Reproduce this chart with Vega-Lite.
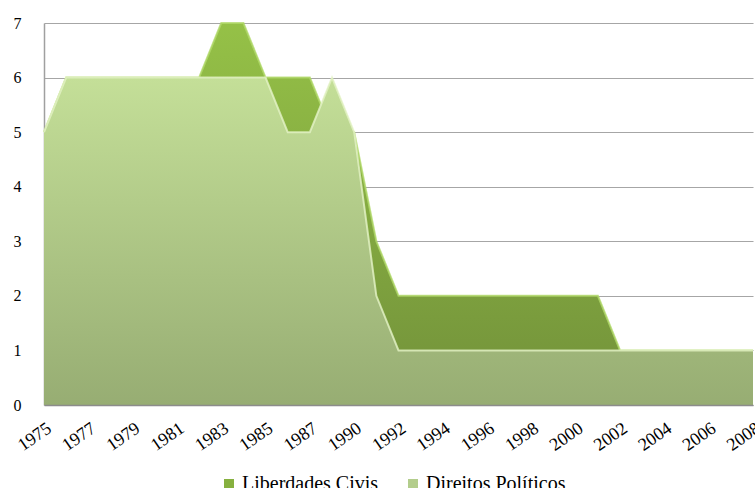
{
  "$schema": "https://vega.github.io/schema/vega-lite/v6.json",
  "width": 709,
  "height": 382,
  "autosize": {"type": "none"},
  "padding": {"left": 44, "top": 23, "right": 2, "bottom": 83},
  "background": "white",
  "config": {
    "view": {"stroke": null},
    "font": "Liberation Serif",
    "axis": {"labelFont": "Liberation Serif"},
    "legend": {"labelFont": "Liberation Serif"}
  },
  "data": {
    "values": [
      {"ano": "1975", "serie": "Liberdades Civis", "valor": 5},
      {"ano": "1976", "serie": "Liberdades Civis", "valor": 6},
      {"ano": "1977", "serie": "Liberdades Civis", "valor": 6},
      {"ano": "1978", "serie": "Liberdades Civis", "valor": 6},
      {"ano": "1979", "serie": "Liberdades Civis", "valor": 6},
      {"ano": "1980", "serie": "Liberdades Civis", "valor": 6},
      {"ano": "1981", "serie": "Liberdades Civis", "valor": 6},
      {"ano": "1982", "serie": "Liberdades Civis", "valor": 6},
      {"ano": "1983", "serie": "Liberdades Civis", "valor": 7},
      {"ano": "1984", "serie": "Liberdades Civis", "valor": 7},
      {"ano": "1985", "serie": "Liberdades Civis", "valor": 6},
      {"ano": "1986", "serie": "Liberdades Civis", "valor": 6},
      {"ano": "1987", "serie": "Liberdades Civis", "valor": 6},
      {"ano": "1989", "serie": "Liberdades Civis", "valor": 5},
      {"ano": "1990", "serie": "Liberdades Civis", "valor": 5},
      {"ano": "1991", "serie": "Liberdades Civis", "valor": 3},
      {"ano": "1992", "serie": "Liberdades Civis", "valor": 2},
      {"ano": "1993", "serie": "Liberdades Civis", "valor": 2},
      {"ano": "1994", "serie": "Liberdades Civis", "valor": 2},
      {"ano": "1995", "serie": "Liberdades Civis", "valor": 2},
      {"ano": "1996", "serie": "Liberdades Civis", "valor": 2},
      {"ano": "1997", "serie": "Liberdades Civis", "valor": 2},
      {"ano": "1998", "serie": "Liberdades Civis", "valor": 2},
      {"ano": "1999", "serie": "Liberdades Civis", "valor": 2},
      {"ano": "2000", "serie": "Liberdades Civis", "valor": 2},
      {"ano": "2001", "serie": "Liberdades Civis", "valor": 2},
      {"ano": "2002", "serie": "Liberdades Civis", "valor": 1},
      {"ano": "2003", "serie": "Liberdades Civis", "valor": 1},
      {"ano": "2004", "serie": "Liberdades Civis", "valor": 1},
      {"ano": "2005", "serie": "Liberdades Civis", "valor": 1},
      {"ano": "2006", "serie": "Liberdades Civis", "valor": 1},
      {"ano": "2007", "serie": "Liberdades Civis", "valor": 1},
      {"ano": "2008", "serie": "Liberdades Civis", "valor": 1},
      {"ano": "1975", "serie": "Direitos Políticos", "valor": 5},
      {"ano": "1976", "serie": "Direitos Políticos", "valor": 6},
      {"ano": "1977", "serie": "Direitos Políticos", "valor": 6},
      {"ano": "1978", "serie": "Direitos Políticos", "valor": 6},
      {"ano": "1979", "serie": "Direitos Políticos", "valor": 6},
      {"ano": "1980", "serie": "Direitos Políticos", "valor": 6},
      {"ano": "1981", "serie": "Direitos Políticos", "valor": 6},
      {"ano": "1982", "serie": "Direitos Políticos", "valor": 6},
      {"ano": "1983", "serie": "Direitos Políticos", "valor": 6},
      {"ano": "1984", "serie": "Direitos Políticos", "valor": 6},
      {"ano": "1985", "serie": "Direitos Políticos", "valor": 6},
      {"ano": "1986", "serie": "Direitos Políticos", "valor": 5},
      {"ano": "1987", "serie": "Direitos Políticos", "valor": 5},
      {"ano": "1989", "serie": "Direitos Políticos", "valor": 6},
      {"ano": "1990", "serie": "Direitos Políticos", "valor": 5},
      {"ano": "1991", "serie": "Direitos Políticos", "valor": 2},
      {"ano": "1992", "serie": "Direitos Políticos", "valor": 1},
      {"ano": "1993", "serie": "Direitos Políticos", "valor": 1},
      {"ano": "1994", "serie": "Direitos Políticos", "valor": 1},
      {"ano": "1995", "serie": "Direitos Políticos", "valor": 1},
      {"ano": "1996", "serie": "Direitos Políticos", "valor": 1},
      {"ano": "1997", "serie": "Direitos Políticos", "valor": 1},
      {"ano": "1998", "serie": "Direitos Políticos", "valor": 1},
      {"ano": "1999", "serie": "Direitos Políticos", "valor": 1},
      {"ano": "2000", "serie": "Direitos Políticos", "valor": 1},
      {"ano": "2001", "serie": "Direitos Políticos", "valor": 1},
      {"ano": "2002", "serie": "Direitos Políticos", "valor": 1},
      {"ano": "2003", "serie": "Direitos Políticos", "valor": 1},
      {"ano": "2004", "serie": "Direitos Políticos", "valor": 1},
      {"ano": "2005", "serie": "Direitos Políticos", "valor": 1},
      {"ano": "2006", "serie": "Direitos Políticos", "valor": 1},
      {"ano": "2007", "serie": "Direitos Políticos", "valor": 1},
      {"ano": "2008", "serie": "Direitos Políticos", "valor": 1}
    ]
  },
  "encoding": {
    "x": {
      "field": "ano",
      "type": "ordinal",
      "scale": {"type": "point", "padding": 0},
      "axis": {
        "title": null,
        "values": ["1975","1977","1979","1981","1983","1985","1987","1990","1992","1994","1996","1998","2000","2002","2004","2006","2008"],
        "labelAngle": -35,
        "labelAlign": "right",
        "labelBaseline": "top",
        "labelPadding": 14,
        "labelFont": "Liberation Serif",
        "labelFontSize": 18,
        "labelColor": "#000000",
        "ticks": false,
        "domain": true,
        "domainColor": "#8c8c8c",
        "domainWidth": 1.5,
        "grid": false,
        "zindex": 1,
        "labelOverlap": false
      }
    },
    "y": {
      "field": "valor",
      "type": "quantitative",
      "stack": null,
      "scale": {"domain": [0, 7], "nice": false},
      "axis": {
        "title": null,
        "values": [0, 1, 2, 3, 4, 5, 6, 7],
        "labelFont": "Liberation Serif",
        "labelFontSize": 16,
        "labelColor": "#000000",
        "labelPadding": 23,
        "ticks": false,
        "domain": true,
        "domainColor": "#a0a0a0",
        "domainWidth": 1.5,
        "grid": true,
        "gridColor": "#a6a6a6",
        "gridWidth": 1.2
      }
    }
  },
  "layer": [
    {
      "transform": [{"filter": "datum.serie === 'Liberdades Civis'"}],
      "mark": {"type": "area", "interpolate": "linear"},
      "encoding": {
        "color": {
          "field": "serie",
          "type": "nominal",
          "scale": {"domain": ["Liberdades Civis", "Direitos Políticos"], "range": ["#86b03f", "#b3cd8c"]},
          "legend": {
            "title": null,
            "orient": "none",
            "direction": "horizontal",
            "legendX": 175,
            "legendY": 451,
            "symbolType": "square",
            "symbolSize": 100,
            "symbolStrokeWidth": 0,
            "labelFont": "Liberation Serif",
            "labelFontSize": 20,
            "labelColor": "#000000",
            "labelOffset": 3,
            "columnPadding": 24
          }
        }
      }
    },
    {
      "transform": [{"filter": "datum.serie === 'Liberdades Civis'"}],
      "mark": {
        "type": "area",
        "interpolate": "linear",
        "color": {
          "gradient": "linear", "x1": 0, "y1": 0, "x2": 0, "y2": 1,
          "stops": [{"offset": 0, "color": "#95c147"}, {"offset": 1, "color": "#72913a"}]
        }
      }
    },
    {
      "transform": [{"filter": "datum.serie === 'Liberdades Civis'"}],
      "mark": {"type": "line", "interpolate": "linear", "color": "#b2d96a", "strokeWidth": 2, "opacity": 0.8}
    },
    {
      "transform": [{"filter": "datum.serie === 'Direitos Políticos'"}],
      "mark": {"type": "area", "interpolate": "linear"},
      "encoding": {
        "color": {"field": "serie", "type": "nominal"}
      }
    },
    {
      "transform": [{"filter": "datum.serie === 'Direitos Políticos'"}],
      "mark": {
        "type": "area",
        "interpolate": "linear",
        "color": {
          "gradient": "linear", "x1": 0, "y1": 0, "x2": 0, "y2": 1,
          "stops": [{"offset": 0, "color": "#c4df98"}, {"offset": 1, "color": "#97ad73"}]
        }
      }
    },
    {
      "transform": [{"filter": "datum.serie === 'Direitos Políticos'"}],
      "mark": {"type": "line", "interpolate": "linear", "color": "#e3f3c6", "strokeWidth": 2, "opacity": 0.8}
    }
  ]
}
